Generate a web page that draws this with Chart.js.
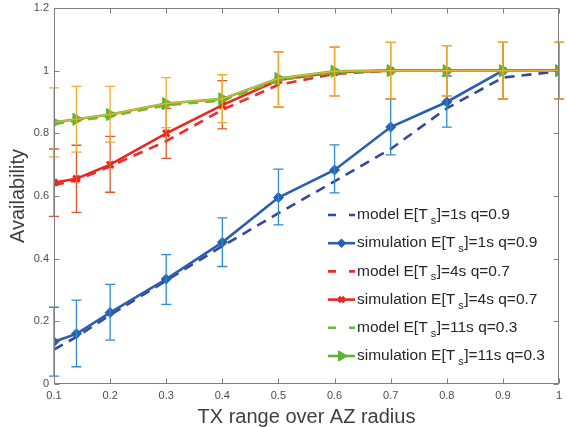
<!DOCTYPE html>
<html>
<head>
<meta charset="utf-8">
<script src="https://cdn.jsdelivr.net/npm/chart.js"></script>
<style>
  body { margin: 0; background: #fff; }
  canvas { display: block; }
</style>
</head>
<body>
<canvas id="chart1" width="567" height="427"></canvas>
<script>
///////////////////////////// DATA /////////////////////////////

// TX range over AZ radius
const xValues = [0.1, 0.14, 0.2, 0.3, 0.4, 0.5, 0.6, 0.7, 0.8, 0.9, 1.0];

const xTicks = [0.1, 0.2, 0.3, 0.4, 0.5, 0.6, 0.7, 0.8, 0.9, 1.0];
const xTickLabels = ['0.1', '0.2', '0.3', '0.4', '0.5', '0.6', '0.7', '0.8', '0.9', '1'];
const yTicks = [0, 0.2, 0.4, 0.6, 0.8, 1.0, 1.2];
const yTickLabels = ['0', '0.2', '0.4', '0.6', '0.8', '1', '1.2'];

// E[Ts]=1s q=0.9
const model1 = [0.11, 0.15, 0.22, 0.33, 0.44, 0.545, 0.647, 0.75, 0.88, 0.978, 0.998];
const sim1 = [0.135, 0.16, 0.228, 0.335, 0.452, 0.595, 0.683, 0.82, 0.90, 1.0, 1.0];
const sim1Low = [0.025, 0.055, 0.14, 0.254, 0.375, 0.508, 0.61, 0.731, 0.82, 0.91, 0.91];
const sim1High = [0.245, 0.268, 0.318, 0.413, 0.53, 0.686, 0.763, 0.91, 0.983, 1.09, 1.09];

// E[Ts]=4s q=0.7
const model2 = [0.635, 0.65, 0.695, 0.775, 0.875, 0.955, 0.99, 1.0, 1.0, 1.0, 1.0];
const sim2 = [0.643, 0.655, 0.70, 0.80, 0.89, 0.97, 0.995, 1.0, 1.0, 1.0, 1.0];
const sim2Low = [0.535, 0.548, 0.612, 0.72, 0.814, 0.884, 0.92, 0.91, 0.92, 0.91, 0.91];
const sim2High = [0.75, 0.762, 0.79, 0.88, 0.968, 1.06, 1.075, 1.09, 1.08, 1.09, 1.09];

// E[Ts]=11s q=0.3
const model3 = [0.83, 0.84, 0.855, 0.89, 0.905, 0.97, 0.995, 1.0, 1.0, 1.0, 1.0];
const sim3 = [0.835, 0.845, 0.86, 0.895, 0.91, 0.975, 0.998, 1.0, 1.0, 1.0, 1.0];
const sim3Low = [0.725, 0.74, 0.772, 0.818, 0.834, 0.885, 0.92, 0.91, 0.92, 0.91, 0.91];
const sim3High = [0.945, 0.95, 0.95, 0.978, 0.987, 1.06, 1.075, 1.09, 1.08, 1.09, 1.09];

const legendLabels = [
  'model E[T_s]=1s q=0.9',
  'simulation E[T_s]=1s q=0.9',
  'model E[T_s]=4s q=0.7',
  'simulation E[T_s]=4s q=0.7',
  'model E[T_s]=11s q=0.3',
  'simulation E[T_s]=11s q=0.3'
];

///////////////////////////// STYLE /////////////////////////////

const FONT = '"Liberation Sans", Arial, Helvetica, sans-serif';
const blueModel = '#34489c';
const blueSim = '#2a5fae';
const blueErr = '#2f8bd0';
const redModel = '#f12a2a';
const redSim = '#e8281f';
const redErr = '#e0582c';
const greenModel = '#66bb38';
const greenSim = '#5cb531';
const orangeErr = '#edad2e';

function toPoints(arr) {
  return xValues.map((x, i) => ({ x: x, y: arr[i] }));
}

const dataSets = [
  { label: legendLabels[0], data: toPoints(model1), borderColor: blueModel, backgroundColor: blueModel,
    borderWidth: 2.6, borderDash: [10, 7], pointRadius: 0, order: 6 },
  { label: legendLabels[1], data: toPoints(sim1), borderColor: blueSim, backgroundColor: blueSim,
    borderWidth: 2.6, pointStyle: 'rectRot', pointRadius: 5, pointBorderWidth: 1, order: 5,
    err: { low: sim1Low, high: sim1High, color: blueErr } },
  { label: legendLabels[2], data: toPoints(model2), borderColor: redModel, backgroundColor: redModel,
    borderWidth: 2.6, borderDash: [10, 7], pointRadius: 0, order: 4 },
  { label: legendLabels[3], data: toPoints(sim2), borderColor: redSim, backgroundColor: redSim,
    borderWidth: 2.6, pointStyle: 'crossRot', pointRadius: 4.5, pointBorderWidth: 3, order: 3,
    err: { low: sim2Low, high: sim2High, color: redErr } },
  { label: legendLabels[4], data: toPoints(model3), borderColor: greenModel, backgroundColor: greenModel,
    borderWidth: 2.6, borderDash: [10, 7], pointRadius: 0, order: 2 },
  { label: legendLabels[5], data: toPoints(sim3), borderColor: greenSim, backgroundColor: greenSim,
    borderWidth: 2.6, pointStyle: 'triangle', pointRotation: 90, pointRadius: 7, pointBorderWidth: 1, order: 1,
    err: { low: sim3Low, high: sim3High, color: orangeErr, line: true } }
];

///////////////////////////// PLUGINS /////////////////////////////

// error bars, drawn right after their simulation dataset
const errorBars = {
  id: 'errorBars',
  afterDatasetDraw(chart, args) {
    const ds = chart.data.datasets[args.index];
    if (!ds.err) return;
    const ctx = chart.ctx, xs = chart.scales.x, ys = chart.scales.y;
    ctx.save();
    ctx.strokeStyle = ds.err.color;
    if (ds.err.line) {
      ctx.lineWidth = 1.5;
      ctx.beginPath();
      ds.data.forEach((p, i) => {
        const px = xs.getPixelForValue(p.x), py = ys.getPixelForValue(p.y);
        if (i === 0) ctx.moveTo(px, py); else ctx.lineTo(px, py);
      });
      ctx.stroke();
    }
    ctx.lineWidth = 1.3;
    xValues.forEach((xv, i) => {
      const px = xs.getPixelForValue(xv);
      const top = ys.getPixelForValue(ds.err.high[i]);
      const bot = ys.getPixelForValue(ds.err.low[i]);
      ctx.beginPath();
      ctx.moveTo(px, top); ctx.lineTo(px, bot);
      ctx.moveTo(px - 5, top); ctx.lineTo(px + 5, top);
      ctx.moveTo(px - 5, bot); ctx.lineTo(px + 5, bot);
      ctx.stroke();
    });
    ctx.restore();
  }
};

// matlab style box with inward ticks + legend inside the axes
const boxAndLegend = {
  id: 'boxAndLegend',
  afterDraw(chart) {
    const ctx = chart.ctx, a = chart.chartArea, xs = chart.scales.x, ys = chart.scales.y;
    ctx.save();
    ctx.strokeStyle = '#7f7f7f';
    ctx.lineWidth = 1;
    const L = Math.round(a.left) + 0.5, R = Math.round(a.right) - 0.5;
    const T = Math.round(a.top) + 0.5, B = Math.round(a.bottom) - 0.5;
    ctx.strokeRect(L, T, R - L, B - T);
    ctx.beginPath();
    xTicks.forEach(v => {
      const px = Math.round(xs.getPixelForValue(v)) + 0.5;
      ctx.moveTo(px, B); ctx.lineTo(px, B - 5);
      ctx.moveTo(px, T); ctx.lineTo(px, T + 5);
    });
    yTicks.forEach(v => {
      const py = Math.round(ys.getPixelForValue(v)) + 0.5;
      ctx.moveTo(L, py); ctx.lineTo(L + 5, py);
      ctx.moveTo(R, py); ctx.lineTo(R - 5, py);
    });
    ctx.stroke();

    // legend
    const x0 = 328, x1 = 355, textX = 357, y0 = 215, rowH = 28.2;
    chart.data.datasets.forEach((ds, i) => {
      const y = y0 + i * rowH;
      ctx.save();
      ctx.strokeStyle = ds.borderColor;
      ctx.lineWidth = 2.6;
      ctx.beginPath();
      if (ds.borderDash) {
        ctx.setLineDash([8, 13]);
      }
      ctx.moveTo(x0, y); ctx.lineTo(x1, y);
      ctx.stroke();
      ctx.setLineDash([]);
      if (ds.pointRadius > 0) {
        const opts = {
          pointStyle: ds.pointStyle, radius: ds.pointRadius * 0.85, rotation: ds.pointRotation || 0,
          borderWidth: ds.pointBorderWidth
        };
        ctx.fillStyle = ds.backgroundColor;
        ctx.strokeStyle = ds.borderColor;
        ctx.lineWidth = ds.pointBorderWidth;
        Chart.helpers.drawPoint(ctx, opts, (x0 + x1) / 2, y);
      }
      ctx.restore();

      // text with subscript
      const parts = ds.label.split('_');
      ctx.fillStyle = '#262626';
      ctx.textBaseline = 'middle';
      ctx.textAlign = 'left';
      ctx.font = '15.5px ' + FONT;
      let tx = textX;
      ctx.fillText(parts[0], tx, y);
      tx += ctx.measureText(parts[0]).width + 3;
      ctx.font = '11px ' + FONT;
      ctx.fillText(parts[1][0], tx, y + 6);
      tx += ctx.measureText(parts[1][0]).width + 0.5;
      ctx.font = '15.5px ' + FONT;
      ctx.fillText(parts[1].slice(1), tx, y);
    });
    ctx.restore();
  }
};

///////////////////////////// CHART /////////////////////////////

const config = {
  type: 'line',
  data: { datasets: dataSets },
  options: {
    responsive: false,
    animation: false,
    devicePixelRatio: 1,
    layout: { padding: { top: 8, right: 3, left: 0, bottom: 0 } },
    plugins: { legend: { display: false }, tooltip: { enabled: false } },
    scales: {
      x: {
        type: 'linear', min: 0.1, max: 1.0,
        grid: { display: false, drawTicks: false },
        border: { display: false },
        afterBuildTicks: s => { s.ticks = xTicks.map(v => ({ value: v })); },
        afterFit: s => { s.height = 43; s.paddingLeft = 0; s.paddingRight = 0; },
        ticks: {
          padding: 5, color: '#4d4d4d', font: { family: FONT, size: 11 },
          autoSkip: false, maxRotation: 0,
          callback: (v, i) => xTickLabels[i]
        },
        title: {
          display: true, text: 'TX range over AZ radius', color: '#404040',
          font: { family: FONT, size: 20, lineHeight: 1 }, padding: { top: 0, bottom: 0 }
        }
      },
      y: {
        type: 'linear', min: 0, max: 1.2,
        grid: { display: false, drawTicks: false },
        border: { display: false },
        afterBuildTicks: s => { s.ticks = yTicks.map(v => ({ value: v })); },
        afterFit: s => { s.width = 54; s.paddingTop = 0; s.paddingBottom = 0; },
        ticks: {
          padding: 5, color: '#4d4d4d', font: { family: FONT, size: 11 },
          autoSkip: false,
          callback: (v, i) => yTickLabels[i]
        },
        title: {
          display: true, text: 'Availability', color: '#404040',
          font: { family: FONT, size: 20, lineHeight: 1 }, padding: { top: 8, bottom: 0 }
        }
      }
    }
  },
  plugins: [errorBars, boxAndLegend]
};

const myChart = new Chart(document.getElementById('chart1'), config);
</script>
</body>
</html>
